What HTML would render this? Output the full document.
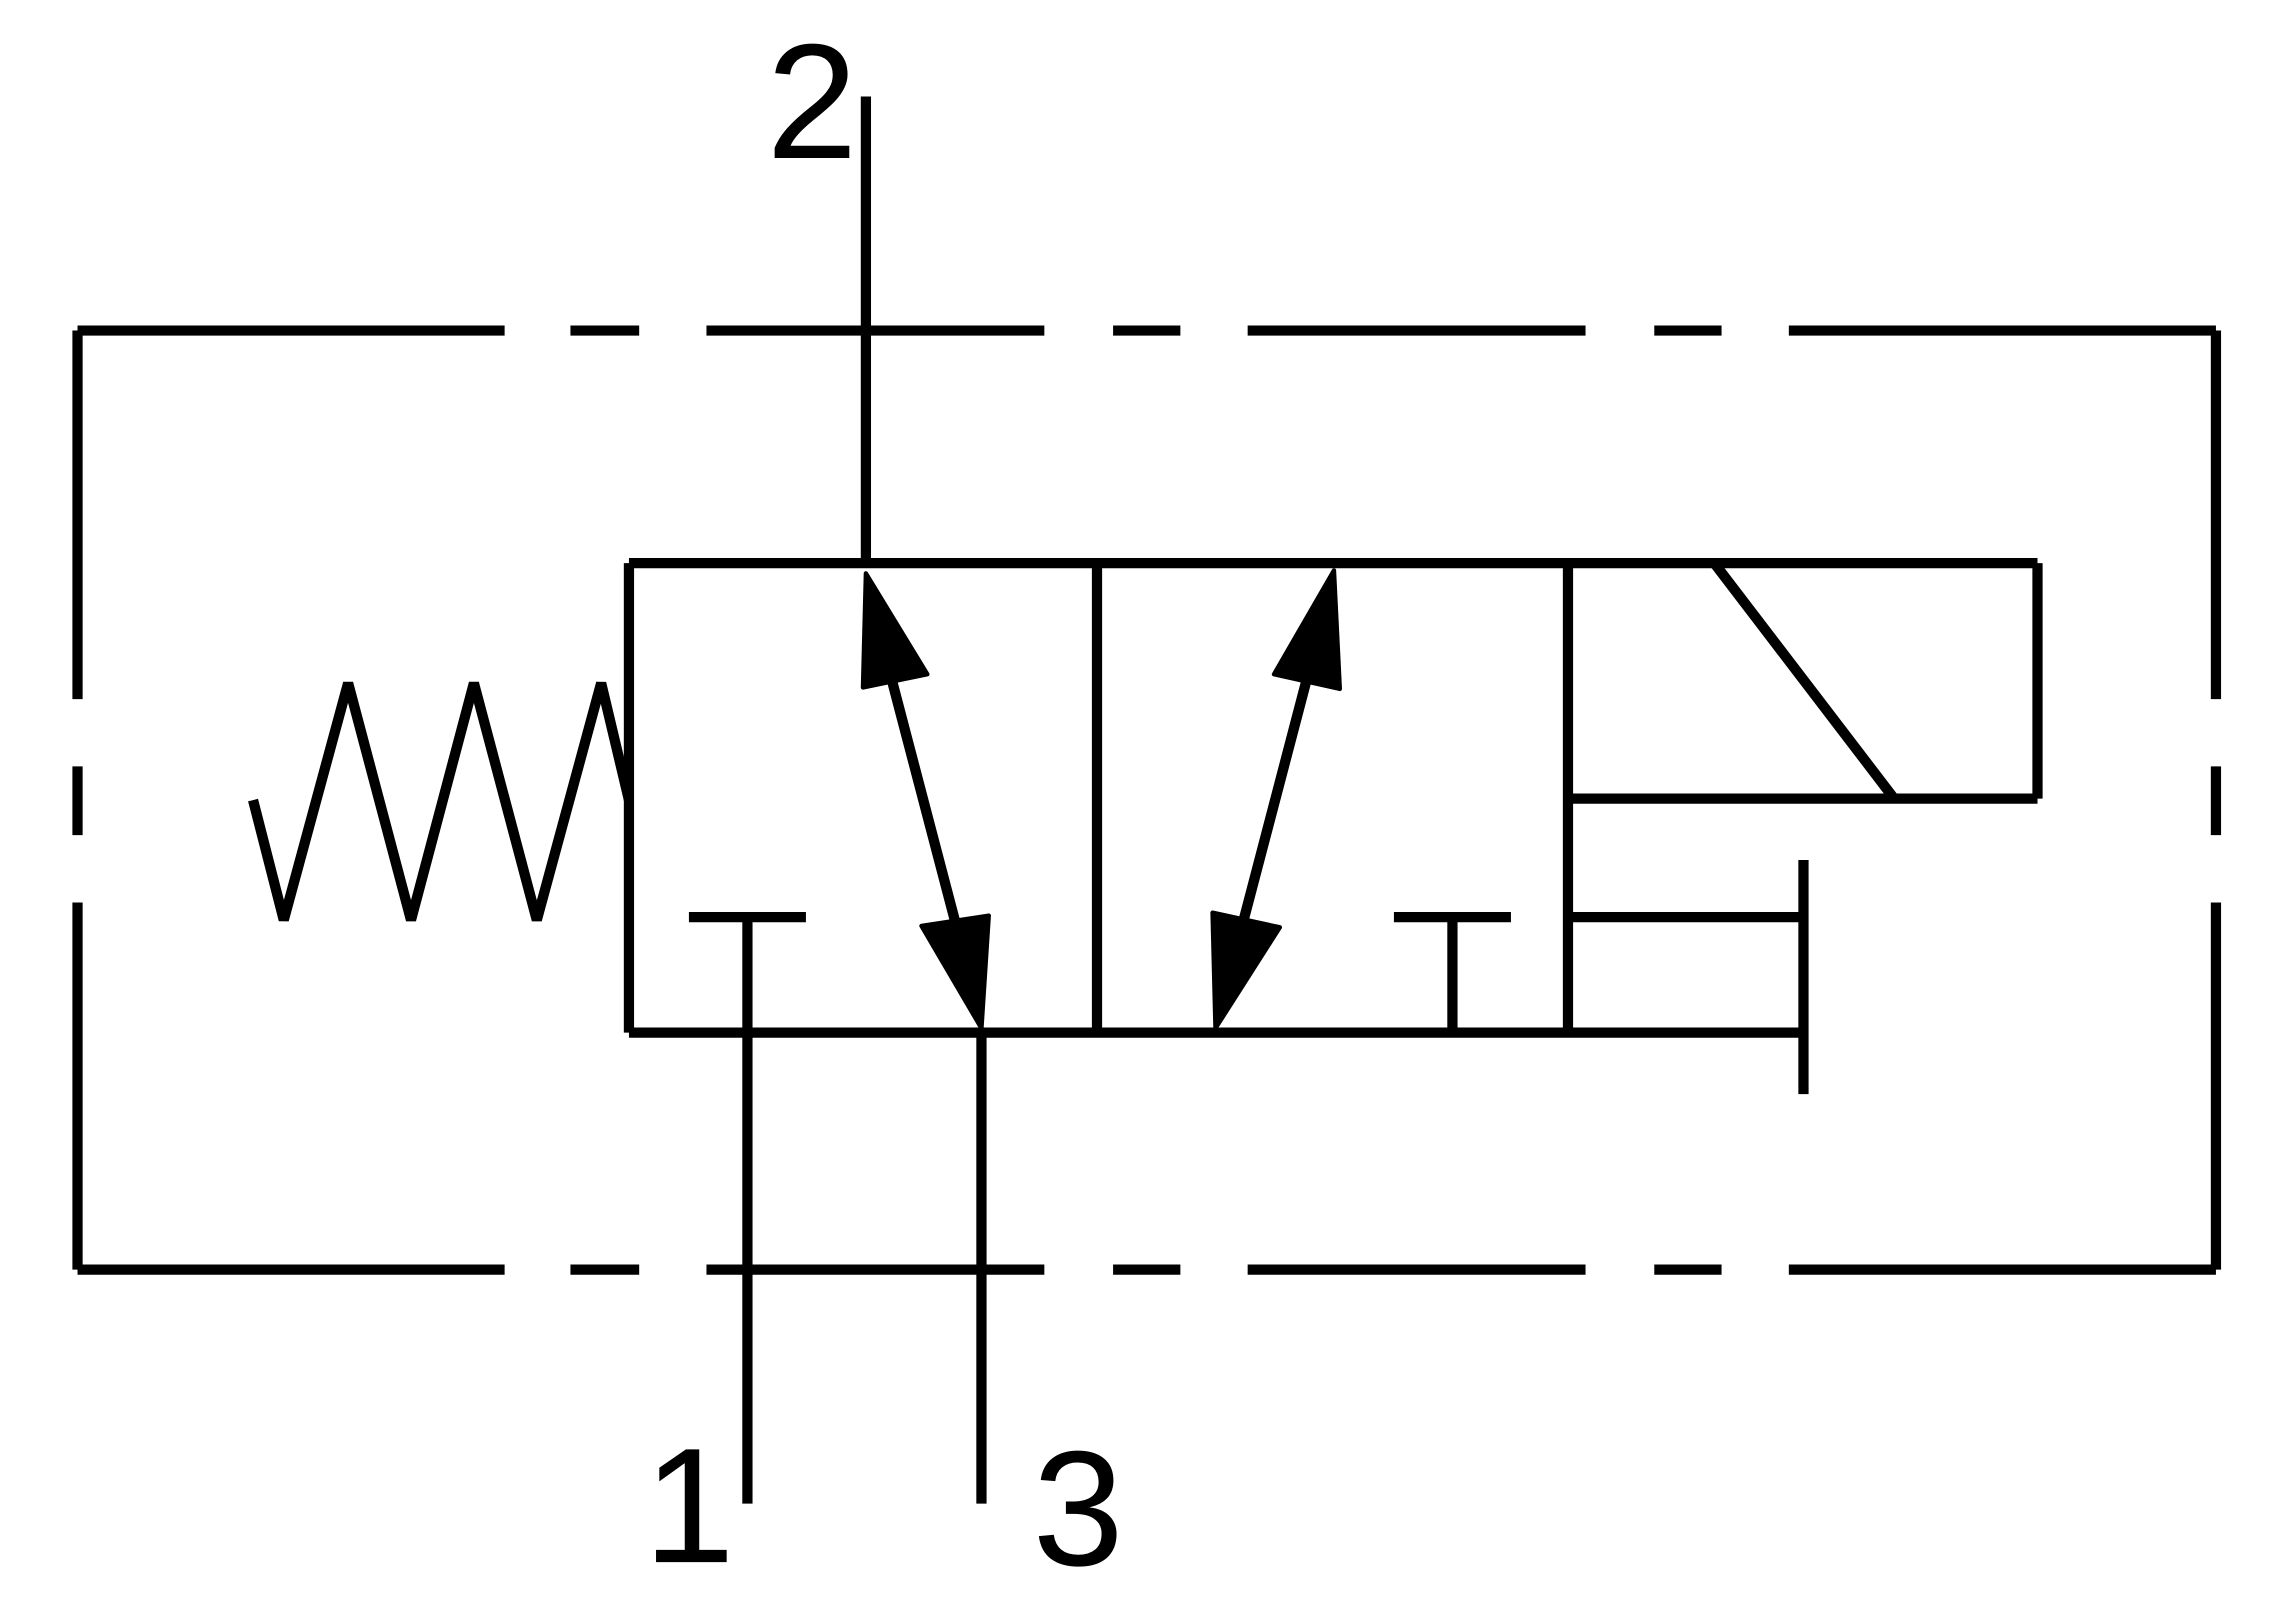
<!DOCTYPE html>
<html><head><meta charset="utf-8"><style>
html,body{margin:0;padding:0;background:#fff;}
svg{display:block;}
</style></head><body>
<svg width="2292" height="1606" viewBox="0 0 1567 1098" preserveAspectRatio="none" xmlns="http://www.w3.org/2000/svg">
<g stroke="#000" stroke-width="7" fill="none" stroke-linecap="butt">
<path d="M53 226H345 M390 226H437 M483 226H714 M761 226H807 M853 226H1084 M1131 226H1177 M1223 226H1515"/>
<path d="M53 868H345 M390 868H437 M483 868H714 M761 868H807 M853 868H1084 M1131 868H1177 M1223 868H1515"/>
<path d="M53 226V478 M53 524V571 M53 617V868"/>
<path d="M1515 226V478 M1515 524V571 M1515 617V868"/>
<path d="M430 385H1393 M430 385V706 M430 706H1232 M750 385V706 M1072 385V706"/>
<path d="M1393 385V546 M1072 546H1393 M1172 385L1295 546"/>
<path d="M1072 627H1232 M1233 588V748"/>
<polyline points="173,547 194,629 238,467 281,629 324,467 367,629 411,467 430,547" stroke-linejoin="bevel"/>
<path d="M592 66V385 M511 627V1028 M471 627H551 M671 706V1028 M953 627H1033 M993 627V706"/>
<path d="M610 466L653 630 M893 466L850 630"/>
</g>
<g fill="#000" stroke="#000" stroke-width="3" stroke-linejoin="round">
<polygon points="592,392 590,470 634,461"/>
<polygon points="671,703 630,633 676,626"/>
<polygon points="912,390 871,461 916,471"/>
<polygon points="831,703 829,624 875,634"/>
</g>
<g font-family="Liberation Sans, sans-serif" font-size="112" fill="#000">
<text x="524" y="108">2</text>
<text x="440" y="1068">1</text>
<text x="706" y="1070">3</text>
</g>
</svg>
</body></html>
